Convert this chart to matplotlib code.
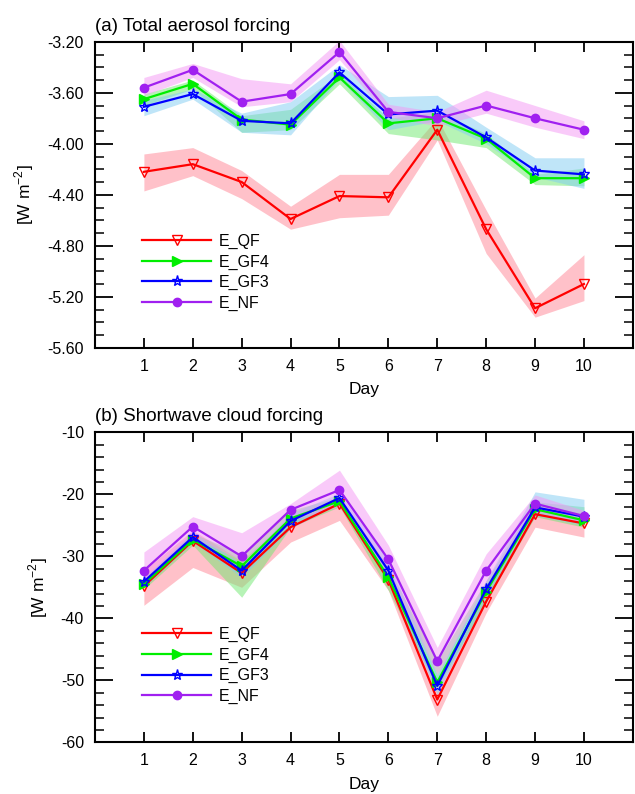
import numpy as np
import matplotlib
matplotlib.use('Agg')
import matplotlib.pyplot as plt
from matplotlib.ticker import MultipleLocator, FormatStrFormatter

plt.rcParams['font.family'] = ['Liberation Sans', 'DejaVu Sans']
plt.rcParams['mathtext.fontset'] = 'custom'
plt.rcParams['mathtext.rm'] = 'Liberation Sans'

days = [1, 2, 3, 4, 5, 6, 7, 8, 9, 10]
names = ['E_QF', 'E_GF4', 'E_GF3', 'E_NF']

# (a) total aerosol forcing: mean, lower and upper edge of the spread
aer_qf = [-4.22, -4.16, -4.30, -4.59, -4.41, -4.42, -3.89, -4.67, -5.29, -5.10]
aer_qf_lo = [-4.37, -4.25, -4.43, -4.67, -4.58, -4.56, -3.97, -4.86, -5.36, -5.23]
aer_qf_hi = [-4.08, -4.03, -4.21, -4.49, -4.24, -4.24, -3.80, -4.52, -5.21, -4.87]

aer_gf4 = [-3.65, -3.53, -3.81, -3.85, -3.48, -3.84, -3.80, -3.96, -4.27, -4.27]
aer_gf4_lo = [-3.70, -3.57, -3.91, -3.89, -3.53, -3.92, -3.97, -4.03, -4.32, -4.33]
aer_gf4_hi = [-3.61, -3.50, -3.78, -3.73, -3.45, -3.80, -3.75, -3.92, -4.24, -4.19]

aer_gf3 = [-3.71, -3.61, -3.82, -3.84, -3.44, -3.77, -3.74, -3.95, -4.21, -4.24]
aer_gf3_lo = [-3.78, -3.65, -3.91, -3.93, -3.49, -3.89, -3.82, -4.00, -4.26, -4.35]
aer_gf3_hi = [-3.66, -3.57, -3.76, -3.67, -3.38, -3.63, -3.62, -3.87, -4.11, -4.11]

aer_nf = [-3.56, -3.42, -3.67, -3.61, -3.28, -3.75, -3.80, -3.70, -3.80, -3.89]
aer_nf_lo = [-3.62, -3.48, -3.71, -3.67, -3.34, -3.79, -3.86, -3.76, -3.87, -3.96]
aer_nf_hi = [-3.48, -3.37, -3.49, -3.53, -3.19, -3.69, -3.75, -3.58, -3.70, -3.82]

# (b) shortwave cloud forcing
sw_qf = [-34.8, -27.5, -32.7, -25.3, -21.5, -33.8, -53.1, -37.3, -23.2, -24.7]
sw_qf_lo = [-37.9, -31.8, -35.0, -27.7, -24.2, -35.5, -55.8, -39.1, -25.3, -26.9]
sw_qf_hi = [-32.3, -25.8, -30.7, -23.6, -20.4, -31.8, -51.2, -35.5, -21.7, -23.1]

sw_gf4 = [-34.5, -27.3, -31.6, -23.9, -21.1, -33.4, -50.3, -35.7, -22.4, -24.2]
sw_gf4_lo = [-35.3, -28.2, -36.6, -25.3, -22.0, -35.5, -51.2, -37.2, -23.6, -25.3]
sw_gf4_hi = [-33.6, -26.3, -29.6, -22.6, -20.4, -31.8, -46.9, -33.9, -21.2, -22.0]

sw_gf3 = [-34.1, -26.9, -32.3, -24.3, -20.6, -32.3, -50.9, -35.3, -22.1, -23.6]
sw_gf3_lo = [-35.0, -27.7, -33.4, -25.5, -21.5, -33.9, -52.3, -36.6, -23.4, -25.0]
sw_gf3_hi = [-33.4, -26.1, -31.2, -23.1, -19.8, -30.7, -49.1, -33.9, -19.6, -20.8]

sw_nf = [-32.3, -25.2, -30.0, -22.5, -19.3, -30.5, -46.9, -32.3, -21.5, -23.5]
sw_nf_lo = [-34.5, -26.9, -30.7, -24.2, -22.0, -32.8, -49.1, -34.5, -22.8, -24.7]
sw_nf_hi = [-29.3, -23.6, -26.2, -21.5, -16.1, -28.2, -44.7, -29.6, -20.1, -22.6]

line_colors = ['#ff0000', '#00ee00', '#0000ff', '#a020f0']
fill_colors = ['#ff8494', '#6ee86e', '#80ccf2', '#f496f4']
markers = ['v', '>', '*', 'o']
mfaces = ['none', '#00ee00', 'none', '#a020f0']
msizes = [7, 7, 8, 6]


def draw_panel(ax, means, los, his, title, ylim, major, minor, fmt):
    for lo, hi, fc in zip(los, his, fill_colors):
        ax.fill_between(days, lo, hi, color=fc, alpha=0.5, lw=0)
    for i, m in enumerate(means):
        ax.plot(days, m, color=line_colors[i], lw=1.6, marker=markers[i],
                ms=msizes[i], mfc=mfaces[i], mec=line_colors[i], mew=1.0,
                label=names[i])
    ax.set_xlim(0, 11)
    ax.set_ylim(*ylim)
    ax.set_xticks(days)
    ax.yaxis.set_major_locator(MultipleLocator(major))
    ax.yaxis.set_minor_locator(MultipleLocator(minor))
    ax.yaxis.set_major_formatter(FormatStrFormatter(fmt))
    ax.tick_params(axis='both', which='both', direction='in', top=True, right=True,
                   labelsize=11.5, color='black')
    ax.tick_params(axis='y', which='major', length=13, width=1.3, pad=8)
    ax.tick_params(axis='y', which='minor', length=6.5, width=1.1)
    ax.tick_params(axis='x', which='major', length=7, width=1.3, pad=8)
    for s in ax.spines.values():
        s.set_linewidth(1.5)
    ax.set_xlabel('Day', fontsize=12.5, labelpad=6)
    ax.set_ylabel(r'[W m$^{\mathregular{-2}}$]', fontsize=12.5, labelpad=8)
    ax.set_title(title, loc='left', fontsize=13.5, pad=8)
    ax.legend(loc='upper left', bbox_to_anchor=(0.088, 0.372), frameon=False,
              fontsize=11.5, handlelength=4.3, handletextpad=0.5,
              labelspacing=0.34, borderpad=0, borderaxespad=0)


fig = plt.figure(figsize=(6.35, 7.94), dpi=100)
ax1 = fig.add_axes([0.1496, 0.562, 0.847, 0.3854])
ax2 = fig.add_axes([0.1496, 0.0651, 0.847, 0.3904])

draw_panel(ax1, [aer_qf, aer_gf4, aer_gf3, aer_nf],
           [aer_qf_lo, aer_gf4_lo, aer_gf3_lo, aer_nf_lo],
           [aer_qf_hi, aer_gf4_hi, aer_gf3_hi, aer_nf_hi],
           '(a) Total aerosol forcing', (-5.6, -3.2), 0.4, 0.1, '%.2f')
draw_panel(ax2, [sw_qf, sw_gf4, sw_gf3, sw_nf],
           [sw_qf_lo, sw_gf4_lo, sw_gf3_lo, sw_nf_lo],
           [sw_qf_hi, sw_gf4_hi, sw_gf3_hi, sw_nf_hi],
           '(b) Shortwave cloud forcing', (-60, -10), 10, 2, '%d')

fig.savefig('out.png', dpi=100)
